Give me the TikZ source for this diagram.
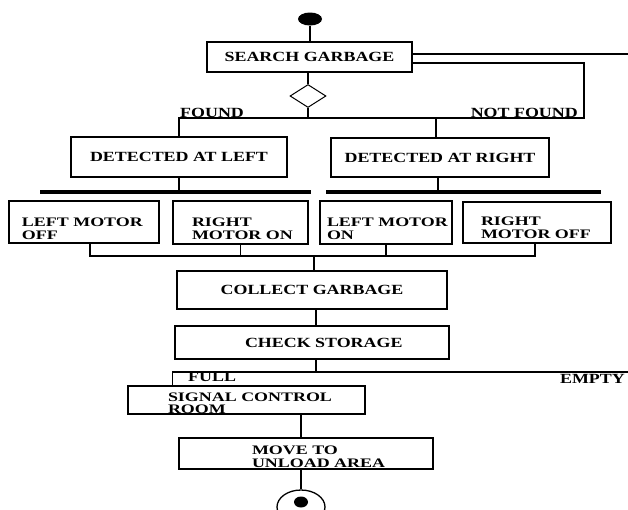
\documentclass[tikz,border=0pt]{standalone}
\usepackage{fontspec}
\setmainfont{Liberation Serif}[FakeStretch=1.28]
\newfontfamily\widelbl{Liberation Serif}[FakeStretch=1.38]
\usetikzlibrary{shapes.geometric,calc}
\newcommand\twolines[5]{\vbox{\offinterlineskip
  \hbox to #1{\hskip #2\relax #4\hfil}\kern #3\relax
  \hbox to #1{\hskip #2\relax #5\hfil}}}
\begin{document}
\begin{tikzpicture}[x=1pt,y=-1pt,
  txt/.style={font=\fontsize{14}{14}\selectfont\bfseries},
  box/.style={draw, line width=1.3pt, inner sep=0pt, txt},
  lbox/.style={box, text depth=0pt, text height=#1,
    font=\fontsize{13}{13}\selectfont\widelbl\bfseries},
  lab/.style={inner sep=0pt, txt},
  conn/.style={line width=1.2pt},
  bar/.style={fill, inner sep=0pt, minimum height=4pt}]
\fill[white] (0,0) rectangle (628,509);
\useasboundingbox (0,0) rectangle (628,509);
\clip (0,0) rectangle (628,509);

% nodes
\node[fill, ellipse, minimum width=24pt, minimum height=13pt, inner sep=0pt] (start) at (310,19) {};
\node[box, minimum width=205pt, minimum height=30pt] (search) at (309.5,57) {SEARCH GARBAGE};
\node[draw, diamond, line width=1pt, minimum width=36pt, minimum height=23pt, inner sep=0pt] (dia) at (308,96) {};
\node[box, minimum width=216pt, minimum height=40pt] (detL) at (179,157) {DETECTED AT LEFT};
\node[box, minimum width=218pt, minimum height=39pt] (detR) at (440,157.5) {DETECTED AT RIGHT};
\node[bar, minimum width=271pt] (barL) at (175.5,192) {};
\node[bar, minimum width=275pt] (barR) at (463.5,192) {};
\node[lbox=34pt, minimum width=150pt, minimum height=42pt] (m1) at (84,222)
  {\twolines{150pt}{13pt}{4.2pt}{LEFT MOTOR}{OFF}};
\node[lbox=33pt, minimum width=135pt, minimum height=43pt] (m2) at (240.5,222.5)
  {\twolines{135pt}{19pt}{4.2pt}{RIGHT}{MOTOR ON}};
\node[lbox=33pt, minimum width=132pt, minimum height=43pt] (m3) at (386,222.5)
  {\twolines{132pt}{7pt}{4.2pt}{LEFT MOTOR}{ON}};
\node[lbox=31pt, minimum width=148pt, minimum height=41pt] (m4) at (537,222.5)
  {\twolines{148pt}{18pt}{4.2pt}{RIGHT}{MOTOR OFF}};
\node[box, minimum width=270pt, minimum height=38pt] (collect) at (312,290) {COLLECT GARBAGE};
\node[box, minimum width=274pt, minimum height=33pt] (check) at (312,342.5)
  {\hbox to 274pt{\hskip 70pt CHECK STORAGE\hfil}};
\node[lbox=27pt, minimum width=237pt, minimum height=28pt] (signal) at (246.5,400)
  {\twolines{237pt}{40pt}{3pt}{SIGNAL CONTROL}{ROOM}};
\node[lbox=27pt, minimum width=254pt, minimum height=31pt] (move) at (306,453.5)
  {\twolines{254pt}{73pt}{4.2pt}{MOVE TO}{UNLOAD AREA}};
\node[draw, ellipse, line width=1.3pt, minimum width=48pt, minimum height=34pt, inner sep=0pt] (end) at (301,507) {};
\node[fill, ellipse, minimum width=14pt, minimum height=11pt, inner sep=0pt] (enddot) at (301,502) {};

% labels
\node[lab, anchor=base west] (found) at (180,117) {FOUND};
\node[lab, anchor=base east] (notfound) at (578,117) {NOT FOUND};
\node[lab, anchor=base west] (full) at (188,381) {FULL};
\node[lab, anchor=base east] (empty) at (625,383) {EMPTY};

% coordinates
\coordinate (nfc) at (584,118);
\coordinate (exitR) at (628,54);
\coordinate (dRn) at ($(detR.north)+(-4,0)$);
\coordinate (dRs) at ($(detR.south)+(-2,0)$);
\coordinate (jn) at (312,256);
\coordinate (m1s) at ($(m1.south)+(6,0)$);
\coordinate (m4s) at ($(m4.south)+(-2,0)$);
\coordinate (cn) at ($(collect.north)+(2,0)$);
\coordinate (csx) at ($(collect.south)+(4,0)$);
\coordinate (ks) at ($(check.south)+(4,0)$);
\coordinate (emptyEnd) at (628,372);
\coordinate (sd) at ($(signal.north west)+(45,0)$);
\coordinate (mt) at ($(move.north)+(-5,0)$);

% connectors
\draw[conn] (start.south) -- (start.south |- search.north);
\draw[conn] (search.south -| dia.north) -- (dia.north);
\draw[conn] (dia.south) -- (dia.south |- nfc);
\draw[conn] (detL.north) |- (nfc) |- ($(search.east)+(0,6)$);
\draw[conn] ($(search.east)+(0,-3)$) -- (exitR);
\draw[conn] (dRn) -- (dRn |- nfc);
\draw[conn] (detL.south) -- (detL.south |- barL.north);
\draw[conn] (dRs) -- (dRs |- barR.north);
\draw[conn] (m1s) -- (m1s |- jn) -- (m4s |- jn) -- (m4s);
\draw[conn] (m2.south) -- (m2.south |- jn);
\draw[conn] (m3.south) -- (m3.south |- jn);
\draw[conn] (cn |- jn) -- (cn);
\draw[conn] (csx) -- (csx |- check.north);
\draw[conn] (ks) -- (ks |- emptyEnd);
\draw[conn] (sd) -- (sd |- emptyEnd) -- (emptyEnd);
\draw[conn] (mt) -- (mt |- signal.south);
\draw[conn] (end.north) -- (end.north |- move.south);
\end{tikzpicture}
\end{document}
